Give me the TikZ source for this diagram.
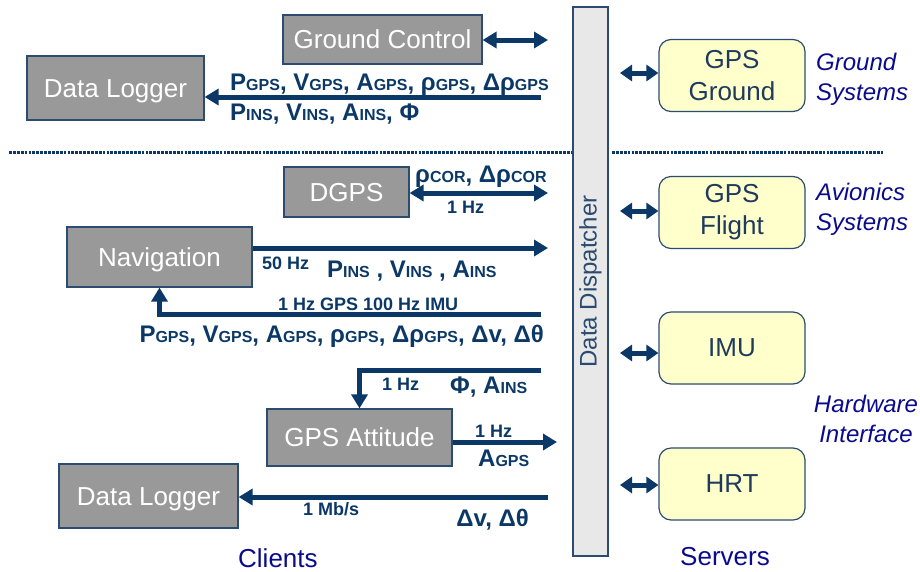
\documentclass[tikz,border=0pt]{standalone}
\usepackage{fontspec}
\setmainfont{Liberation Sans}
\usetikzlibrary{arrows.meta}
\definecolor{linkblue}{HTML}{0B3866}
\definecolor{boxgray}{HTML}{999999}
\definecolor{boxedge}{HTML}{2B4C70}
\definecolor{srvfill}{HTML}{FFFFCC}
\definecolor{srvtext}{HTML}{1E3A5C}
\definecolor{dispfill}{HTML}{E8E8E8}
\definecolor{disptext}{HTML}{2A4A70}
\definecolor{groupblue}{HTML}{0A0A8C}
\newcommand{\lsub}[1]{{\fontsize{16}{16}\selectfont #1}}
\newcommand{\fsz}[1]{\fontsize{#1}{#1}\selectfont}

\begin{document}
\begin{tikzpicture}[x=1pt,y=-1pt,
  client/.style={draw=boxedge, line width=1.2pt, fill=boxgray, text=white,
    font=\fsz{26}, inner sep=0pt, text height=23.5pt, text depth=5.5pt},
  server/.style={draw=boxedge, line width=1.2pt, fill=srvfill, text=srvtext,
    rounded corners=12pt, align=center, font=\fontsize{26}{32}\selectfont,
    inner sep=0pt, minimum width=146pt, minimum height=72pt},
  flow/.style={draw=linkblue, line width=5pt,
    -{Triangle[length=14pt,width=16pt]}},
  twoway/.style={draw=linkblue, line width=5pt,
    {Triangle[length=14pt,width=16pt]}-{Triangle[length=14pt,width=16pt]}},
  srvlink/.style={draw=linkblue, line width=5pt,
    {Triangle[length=12pt,width=16pt]}-{Triangle[length=12pt,width=16pt]}},
  sig/.style={text=linkblue, font=\bfseries\fsz{24}, inner sep=0pt},
  rate/.style={text=linkblue, font=\bfseries\fsz{18}, inner sep=0pt},
  grp/.style={text=groupblue, font=\itshape\fontsize{24}{30}\selectfont,
    inner sep=0pt},
  side/.style={text=groupblue, font=\fsz{26}, inner sep=0pt},
  divider/.style={draw=linkblue, line width=3.6pt, dash pattern=on 2.8pt off 1.1pt}
]
\useasboundingbox (0,0) rectangle (920,571);

% data dispatcher bus
\node[draw=boxedge, line width=1.2pt, fill=dispfill, minimum width=35pt,
  minimum height=549pt, inner sep=0pt] (disp) at (590.5,281.5) {};
\node[rotate=90, text=disptext, font=\fsz{24}, inner sep=0pt] (disptxt)
  at (disp.center) {Data Dispatcher};

% ground / flight separator
\coordinate (dvA) at (9,152.5);
\coordinate (dvB) at (572,152.5);
\coordinate (dvC) at (612,152.5);
\coordinate (dvD) at (883,152.5);
\draw[divider] (dvA) -- (dvB);
\draw[divider] (dvC) -- (dvD);

% clients
\node[client, minimum width=199pt, minimum height=49pt] (gc) at (382.5,39.5) {Ground Control};
\node[client, minimum width=177pt, minimum height=64pt] (dl1) at (115.5,88) {Data Logger};
\node[client, minimum width=125pt, minimum height=50pt] (dgps) at (346.5,192) {DGPS};
\node[client, minimum width=185pt, minimum height=60pt] (nav) at (159.5,257) {Navigation};
\node[client, minimum width=185pt, minimum height=57pt] (gatt) at (359.5,437.5) {GPS Attitude};
\node[client, minimum width=179pt, minimum height=64pt] (dl2) at (148.5,496) {Data Logger};

% servers
\node[server] (sgnd) at (732,75.5) {GPS\\Ground};
\node[server] (sflt) at (732,212.5) {GPS\\Flight};
\node[server] (simu) at (732,348) {IMU};
\node[server] (shrt) at (732,484) {HRT};

% client connectors
\coordinate (gcR) at (548,40);
\draw[twoway] (gc.east |- gcR) -- (gcR);

\coordinate (logR) at (541,97);
\draw[flow] (logR) -- (logR -| dl1.east);

\coordinate (dgR) at (548,193);
\draw[twoway] (dgR -| dgps.east) -- (dgR);

\coordinate (navR) at (548,248);
\draw[flow] (navR -| nav.east) -- (navR);

\coordinate (navIn) at (541,314);
\draw[flow] (navIn) -| (nav.south);

\coordinate (attIn) at (541,370);
\draw[flow] (attIn) -| (gatt.north);

\coordinate (attR) at (557,442);
\draw[flow] (attR -| gatt.east) -- (attR);

\coordinate (logIn) at (548,497);
\draw[flow] (logIn) -- (logIn -| dl2.east);

% server connectors
\coordinate (sgL) at (620,73);
\coordinate (sfL) at (620,211);
\coordinate (siL) at (620,353);
\coordinate (shL) at (620,485);
\draw[srvlink] (sgL) -- (sgL -| sgnd.west);
\draw[srvlink] (sfL) -- (sfL -| sflt.west);
\draw[srvlink] (siL) -- (siL -| simu.west);
\draw[srvlink] (shL) -- (shL -| shrt.west);

% signal labels
\node[sig, anchor=base west] (s1) at (230,90)
  {P\lsub{GPS}, V\lsub{GPS}, A\lsub{GPS}, ρ\lsub{GPS}, Δρ\lsub{GPS}};
\node[sig, anchor=base west] (s2) at (230,120)
  {P\lsub{INS}, V\lsub{INS}, A\lsub{INS}, Φ};
\node[sig, anchor=base west] (s3) at (415,182) {ρ\lsub{COR}, Δρ\lsub{COR}};
\node[rate, anchor=base west] (r1) at (447,213) {1 Hz};
\node[rate, anchor=base west] (r2) at (262,269) {50 Hz};
\node[sig, anchor=base west] (s4) at (327,277) {P\lsub{INS} , V\lsub{INS} , A\lsub{INS}};
\node[rate, anchor=base west] (r3) at (278,310) {1 Hz GPS 100 Hz IMU};
\node[sig, anchor=base east] (s5) at (544,342)
  {P\lsub{GPS}, V\lsub{GPS}, A\lsub{GPS}, ρ\lsub{GPS}, Δρ\lsub{GPS}, Δv, Δθ};
\node[rate, anchor=base west] (r4) at (382,390) {1 Hz};
\node[sig, anchor=base west] (s6) at (450,393) {Φ, A\lsub{INS}};
\node[rate, anchor=base west] (r5) at (475,437) {1 Hz};
\node[sig, anchor=base west] (s7) at (478,466) {A\lsub{GPS}};
\node[rate, anchor=base west] (r6) at (303,515) {1 Mb/s};
\node[sig, anchor=base east] (s8) at (529,526) {Δv, Δθ};

% group captions (base anchor sits on the last line)
\node[grp, align=left, anchor=base west] (g1) at (816,100) {Ground\\Systems};
\node[grp, align=left, anchor=base west] (g2) at (816,230) {Avionics\\Systems};
\node[grp, align=center, anchor=base] (g3) at (866,442) {Hardware\\Interface};
\node[side, anchor=base west] (cl) at (238,567) {Clients};
\node[side, anchor=base west] (sv) at (680,565) {Servers};
\end{tikzpicture}
\end{document}
